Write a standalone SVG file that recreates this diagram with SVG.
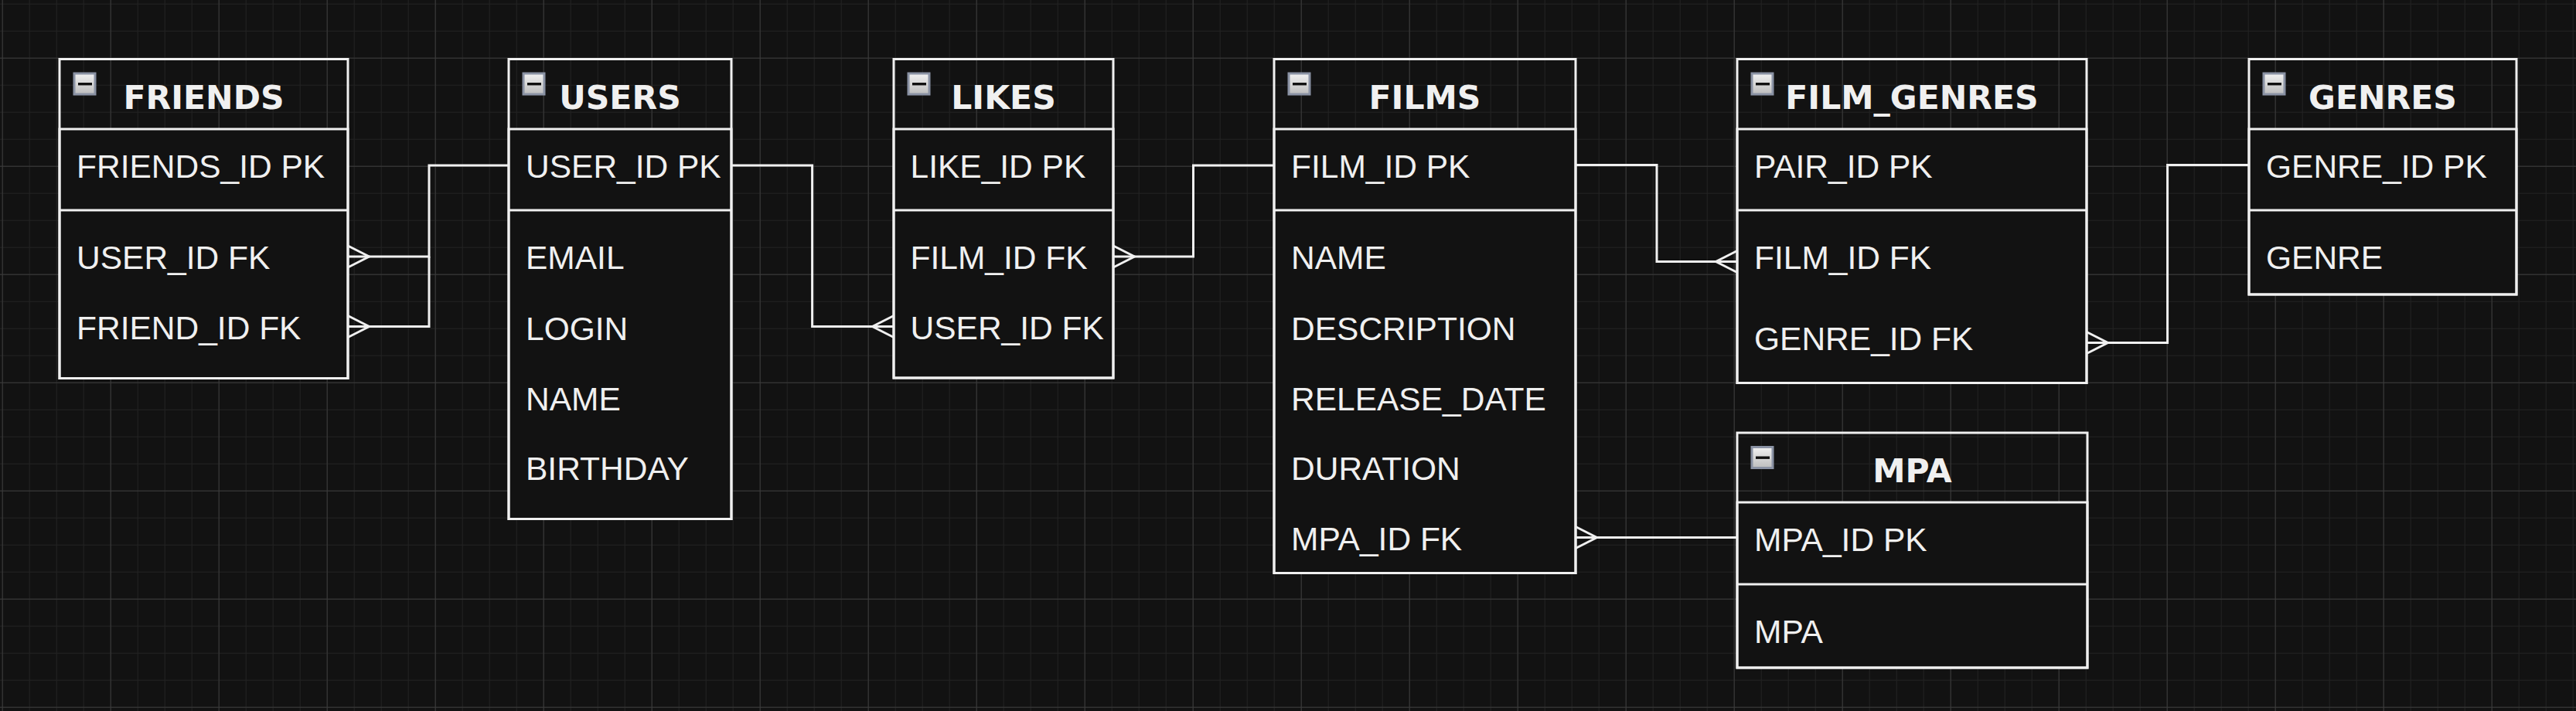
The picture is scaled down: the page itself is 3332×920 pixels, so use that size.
<svg xmlns="http://www.w3.org/2000/svg" xmlns:xlink="http://www.w3.org/1999/xlink" width="3332" height="920" viewBox="0 0 3332 920">
<style>
.frame{fill:none;stroke:#f0f0f0;stroke-width:3}
.body{fill:#121212;stroke:#f0f0f0;stroke-width:3}
.div{stroke:#f0f0f0;stroke-width:3}
.title{font-family:"DejaVu Sans",Verdana,sans-serif;font-weight:bold;font-size:42.5px;fill:#f0f0f0;text-anchor:middle}
.field{font-family:"Liberation Sans",Arial,sans-serif;font-size:42.5px;fill:#f0f0f0}
.conn{fill:none;stroke:#f0f0f0;stroke-width:3;marker-start:url(#many)}
</style>
<defs>
<pattern id="minor" x="2.7" y="4.7" width="35" height="35" patternUnits="userSpaceOnUse">
<path d="M0,0 V35 M0,0 H35" fill="none" stroke="#232323" stroke-width="2"/>
</pattern>
<pattern id="major" x="2.7" y="74.7" width="140" height="140" patternUnits="userSpaceOnUse">
<path d="M0,0 V140 M0,0 H140" fill="none" stroke="#3b3b3b" stroke-width="2"/>
</pattern>
<linearGradient id="iconFill" x1="0" y1="0" x2="0" y2="1">
<stop offset="0" stop-color="#f2f2f2"/>
<stop offset="1" stop-color="#bdbdbd"/>
</linearGradient>
<g id="icon">
<rect x="1.5" y="1.5" width="27" height="27" fill="url(#iconFill)" stroke="#8a92a4" stroke-width="3"/>
<rect x="6.5" y="13.5" width="18" height="3.4" fill="#111"/>
</g>
<marker id="many" markerUnits="userSpaceOnUse" markerWidth="60" markerHeight="60" refX="0" refY="0" orient="auto" overflow="visible">
<path d="M0,-14 L27.5,0 L0,14" fill="none" stroke="#f0f0f0" stroke-width="3"/>
</marker>
</defs>
<rect width="3332" height="920" fill="#121212"/>
<rect width="3332" height="920" fill="url(#minor)"/>
<rect width="3332" height="920" fill="url(#major)"/>

<g id="connectors">
<path class="conn" d="M450,332 H555 V214 H658"/>
<path class="conn" d="M450,422.5 H555 V332"/>
<path class="conn" d="M1156,422.5 H1050.6 V214 H946"/>
<path class="conn" d="M1440,332 H1543.5 V214 H1648"/>
<path class="conn" d="M2247,338.5 H2143 V213.5 H2038"/>
<path class="conn" d="M2038,695.5 H2247"/>
<path class="conn" d="M2699,443.5 H2803.6 V213.5 H2909"/>
</g>

<g id="friends">
<rect class="body" x="77" y="167" width="373" height="322.5"/>
<rect class="frame" x="77" y="76.5" width="373" height="413"/>
<line class="div" x1="77" y1="272" x2="450" y2="272"/>
<use xlink:href="#icon" x="94.5" y="93.5"/>
<text class="title" x="263.5" y="141">FRIENDS</text>
<text class="field" x="99" y="230">FRIENDS_ID PK</text>
<text class="field" x="99" y="348">USER_ID FK</text>
<text class="field" x="99" y="439">FRIEND_ID FK</text>
</g>

<g id="users">
<rect class="body" x="658" y="167" width="288" height="504.5"/>
<rect class="frame" x="658" y="76.5" width="288" height="595"/>
<line class="div" x1="658" y1="272" x2="946" y2="272"/>
<use xlink:href="#icon" x="675.5" y="93.5"/>
<text class="title" x="802" y="141">USERS</text>
<text class="field" x="680" y="230">USER_ID PK</text>
<text class="field" x="680" y="348">EMAIL</text>
<text class="field" x="680" y="439.5">LOGIN</text>
<text class="field" x="680" y="530.5">NAME</text>
<text class="field" x="680" y="621">BIRTHDAY</text>
</g>

<g id="likes">
<rect class="body" x="1156" y="167" width="284" height="322"/>
<rect class="frame" x="1156" y="76.5" width="284" height="412.5"/>
<line class="div" x1="1156" y1="272" x2="1440" y2="272"/>
<use xlink:href="#icon" x="1173.5" y="93.5"/>
<text class="title" x="1298" y="141">LIKES</text>
<text class="field" x="1177.5" y="230">LIKE_ID PK</text>
<text class="field" x="1177.5" y="348">FILM_ID FK</text>
<text class="field" x="1177.5" y="439">USER_ID FK</text>
</g>

<g id="films">
<rect class="body" x="1648" y="167" width="390" height="574.5"/>
<rect class="frame" x="1648" y="76.5" width="390" height="665"/>
<line class="div" x1="1648" y1="272" x2="2038" y2="272"/>
<use xlink:href="#icon" x="1665.5" y="93.5"/>
<text class="title" x="1843" y="141">FILMS</text>
<text class="field" x="1670" y="230">FILM_ID PK</text>
<text class="field" x="1670" y="348">NAME</text>
<text class="field" x="1670" y="439.5">DESCRIPTION</text>
<text class="field" x="1670" y="530.5">RELEASE_DATE</text>
<text class="field" x="1670" y="621">DURATION</text>
<text class="field" x="1670" y="712">MPA_ID FK</text>
</g>

<g id="film_genres">
<rect class="body" x="2247" y="167" width="452" height="328.5"/>
<rect class="frame" x="2247" y="76.5" width="452" height="419"/>
<line class="div" x1="2247" y1="272" x2="2699" y2="272"/>
<use xlink:href="#icon" x="2264.5" y="93.5"/>
<text class="title" x="2473" y="141">FILM_GENRES</text>
<text class="field" x="2269" y="230">PAIR_ID PK</text>
<text class="field" x="2269" y="347.5">FILM_ID FK</text>
<text class="field" x="2269" y="453">GENRE_ID FK</text>
</g>

<g id="genres">
<rect class="body" x="2909" y="167" width="346" height="214"/>
<rect class="frame" x="2909" y="76.5" width="346" height="304.5"/>
<line class="div" x1="2909" y1="272" x2="3255" y2="272"/>
<use xlink:href="#icon" x="2926.5" y="93.5"/>
<text class="title" x="3082" y="141">GENRES</text>
<text class="field" x="2931" y="230">GENRE_ID PK</text>
<text class="field" x="2931" y="347.5">GENRE</text>
</g>

<g id="mpa">
<rect class="body" x="2247" y="650" width="453" height="214"/>
<rect class="frame" x="2247" y="560" width="453" height="304"/>
<line class="div" x1="2247" y1="756" x2="2700" y2="756"/>
<use xlink:href="#icon" x="2264.5" y="577"/>
<text class="title" x="2473.5" y="624">MPA</text>
<text class="field" x="2269" y="713">MPA_ID PK</text>
<text class="field" x="2269" y="831.5">MPA</text>
</g>
</svg>
